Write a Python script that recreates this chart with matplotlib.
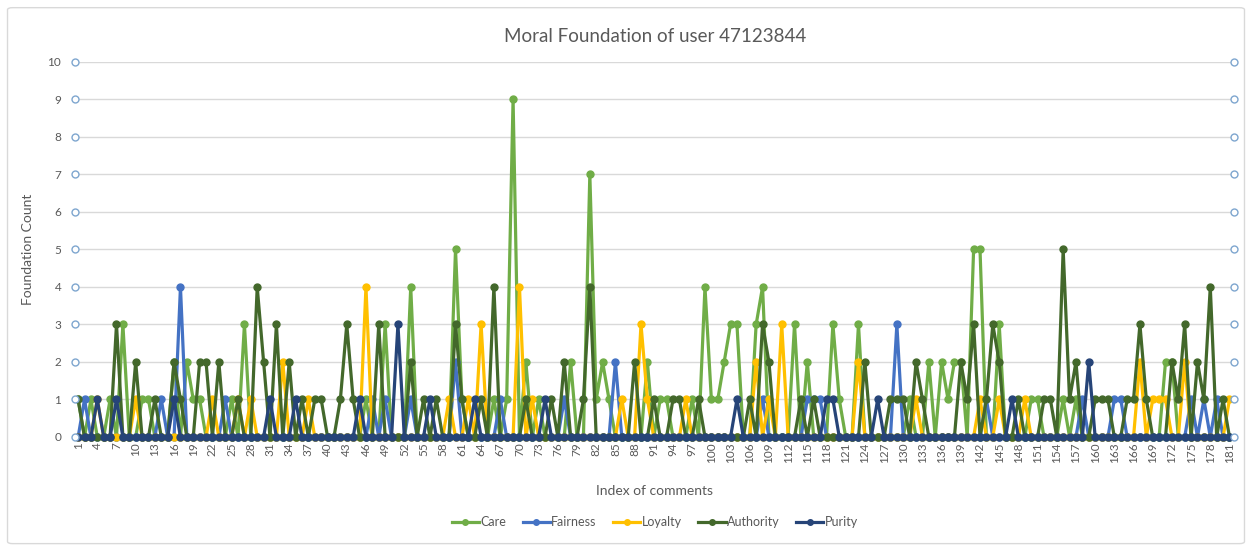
import matplotlib.pyplot as plt
import numpy as np
from matplotlib.patches import FancyBboxPatch

plt.rcParams['font.family'] = ['Lato', 'DejaVu Sans']

n_comments = 181
index = np.arange(1, n_comments + 1)

# non-zero foundation counts per comment index (all other comments are 0)
care = {1: 1, 3: 1, 6: 1, 8: 3, 11: 1, 12: 1, 16: 2, 18: 2, 19: 1, 20: 1,
        25: 1, 27: 3, 46: 1, 49: 3, 53: 4, 60: 5, 61: 1, 66: 1, 68: 1, 69: 9,
        71: 2, 73: 1, 78: 2, 81: 7, 82: 1, 83: 2, 84: 1, 90: 2, 92: 1, 93: 1,
        97: 1, 99: 4, 100: 1, 101: 1, 102: 2, 103: 3, 104: 3, 107: 3, 108: 4,
        113: 3, 115: 2, 119: 3, 120: 1, 123: 3, 131: 1, 134: 2, 136: 2,
        137: 1, 138: 2, 139: 2, 141: 5, 142: 5, 145: 3, 150: 1, 151: 1,
        155: 1, 157: 1, 171: 2, 172: 2}
fairness = {2: 1, 14: 1, 17: 4, 24: 1, 47: 1, 49: 1, 53: 1, 60: 2, 67: 1,
            77: 1, 85: 2, 108: 1, 115: 1, 116: 1, 117: 1, 129: 3, 143: 1,
            158: 1, 163: 1, 164: 1, 175: 1, 177: 1, 179: 1}
loyalty = {4: 1, 10: 1, 22: 1, 26: 1, 28: 1, 33: 2, 37: 1, 46: 4, 59: 1,
           62: 1, 64: 3, 70: 4, 72: 1, 86: 1, 89: 3, 90: 1, 96: 1, 107: 2,
           109: 1, 111: 3, 123: 2, 132: 1, 142: 1, 145: 1, 149: 1, 167: 2,
           169: 1, 170: 1, 171: 1, 174: 2, 181: 1}
authority = {1: 1, 7: 3, 10: 2, 13: 1, 16: 2, 17: 1, 20: 2, 21: 2, 23: 2,
             26: 1, 29: 4, 30: 2, 32: 3, 34: 2, 36: 1, 38: 1, 39: 1, 42: 1,
             43: 3, 44: 1, 48: 3, 53: 2, 55: 1, 57: 1, 60: 3, 61: 1, 64: 1,
             66: 4, 71: 1, 75: 1, 77: 2, 80: 1, 81: 4, 88: 2, 91: 1, 94: 1,
             95: 1, 98: 1, 106: 1, 108: 3, 109: 2, 114: 1, 116: 1, 124: 2,
             128: 1, 129: 1, 130: 1, 132: 2, 133: 1, 139: 2, 140: 1, 141: 3,
             143: 1, 144: 3, 145: 2, 148: 1, 152: 1, 153: 1, 155: 5, 156: 1,
             157: 2, 160: 1, 161: 1, 162: 1, 165: 1, 166: 1, 167: 3, 168: 1,
             172: 2, 173: 1, 174: 3, 176: 2, 177: 1, 178: 4, 180: 1}
purity = {4: 1, 7: 1, 16: 1, 31: 1, 35: 1, 45: 1, 51: 3, 56: 1, 63: 1,
          74: 1, 104: 1, 118: 1, 119: 1, 126: 1, 147: 1, 159: 2}

series_names = ['Care', 'Fairness', 'Loyalty', 'Authority', 'Purity']
series_data = [care, fairness, loyalty, authority, purity]
colors = ['#70AD47', '#4472C4', '#FFC000', '#43682B', '#264478']

y_ticks = np.arange(0, 11)
x_ticks = np.arange(1, n_comments + 1, 3)


def counts(nonzero):
    vals = np.zeros(n_comments)
    for k, v in nonzero.items():
        vals[k - 1] = v
    return vals


fig = plt.figure(figsize=(12.52, 5.48), dpi=100)
ax = fig.add_axes([0.060, 0.2026, 0.926, 0.6844])

# chart area border
fig.patches.append(FancyBboxPatch((0.006, 0.008), 0.988, 0.978,
                                  boxstyle='round,pad=0,rounding_size=0.004',
                                  transform=fig.transFigure, fc='none',
                                  ec='#D9D9D9', lw=1.0))

for name, data, c in zip(series_names, series_data, colors):
    ax.plot(index, counts(data), '-o', color=c, lw=2.3, ms=5,
            label=name, clip_on=False, zorder=3)

# hollow markers at the value axis ends
for xpos in (0, 1):
    ax.plot(np.full(len(y_ticks), xpos), y_ticks, 'o', mfc='white',
            mec='#7EA6CF', mew=1.0, ms=5, transform=ax.get_yaxis_transform(),
            clip_on=False, zorder=4)

ax.set_xlim(1 - 3 / 6.4, n_comments + 5 / 6.4)
ax.set_ylim(0, 10)
ax.set_yticks(y_ticks)
ax.set_xticks(x_ticks)
ax.set_xticklabels([str(t) for t in x_ticks], rotation=90)
ax.tick_params(axis='both', length=0, labelsize=8.5, colors='#595959')
ax.tick_params(axis='y', pad=10)
ax.tick_params(axis='x', pad=4)
ax.grid(axis='y', color='#D9D9D9', lw=1.0)
ax.set_axisbelow(True)
for s in ax.spines.values():
    s.set_visible(False)

ax.set_title('Moral Foundation of user 47123844', fontsize=13.5,
             color='#595959', pad=14)
ax.set_xlabel('Index of comments', fontsize=10, color='#595959', labelpad=16)
ax.set_ylabel('Foundation Count', fontsize=10, color='#595959', labelpad=10)

ax.legend(loc='center', bbox_to_anchor=(0.5, -0.227), ncol=5,
          frameon=False, fontsize=9, labelcolor='#595959',
          handlelength=2.2, columnspacing=1.3, handletextpad=0.1,
          markerscale=0.8)

fig.savefig('out.png', dpi=100)
